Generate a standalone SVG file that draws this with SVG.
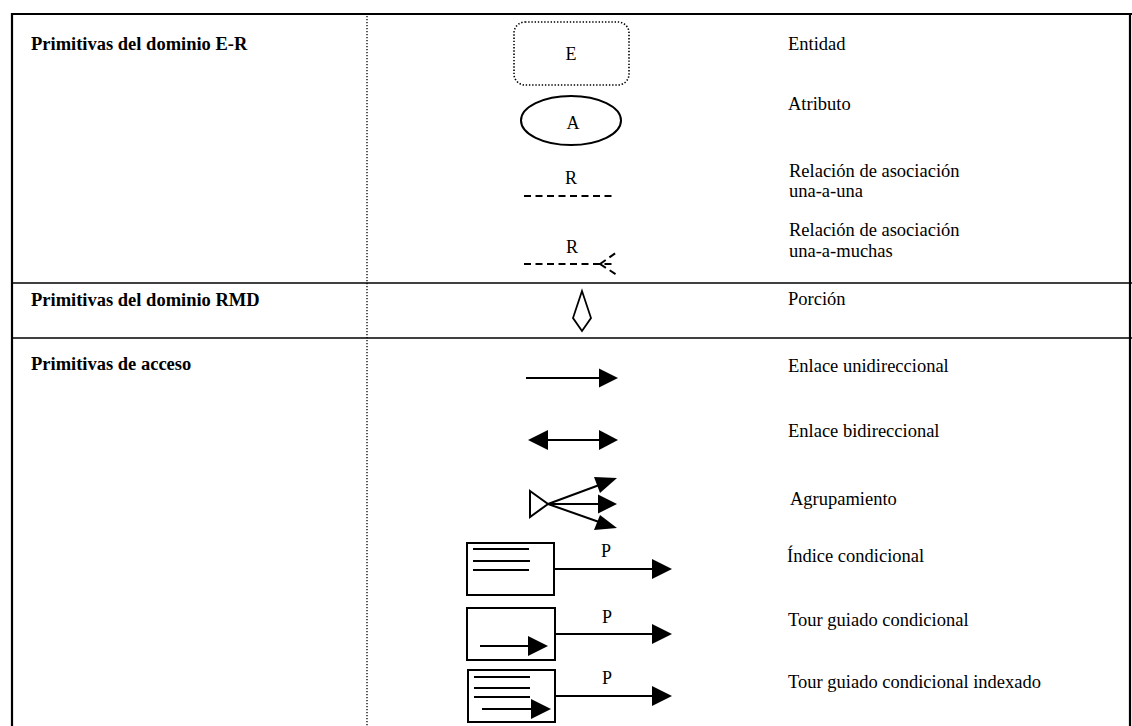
<svg xmlns="http://www.w3.org/2000/svg" width="1132" height="726" viewBox="0 0 1132 726">
  <style>
    .lbl { font-family: "Liberation Serif", "Times New Roman", serif; font-size: 18.5px; fill: #000; }
    .hdr { font-family: "Liberation Serif", "Times New Roman", serif; font-size: 18.5px; font-weight: bold; fill: #000; }
    .sym { font-family: "Liberation Serif", "Times New Roman", serif; font-size: 18px; fill: #000; text-anchor: middle; }
    .frame { fill: none; stroke: #000; stroke-width: 2.2; }
    .rule { stroke: #000; stroke-width: 1.6; }
    .sep { stroke: #000; stroke-width: 1.3; stroke-dasharray: 1.3 1.7; }
    .ln { fill: none; stroke: #000; stroke-width: 2; }
    .dash { fill: none; stroke: #000; stroke-width: 2; stroke-dasharray: 7 4.5; }
    .head { fill: #000; stroke: none; }
    .box { fill: #fff; stroke: #000; stroke-width: 2; }
  </style>

  <!-- table frame -->
  <g id="table">
    <line class="frame" x1="12" y1="14" x2="1132" y2="14"/>
    <line class="frame" x1="12" y1="13" x2="12" y2="726"/>
    <line class="frame" x1="1130" y1="13" x2="1130" y2="726"/>
    <line class="rule" x1="12" y1="283" x2="1132" y2="283"/>
    <line class="rule" x1="12" y1="338" x2="1132" y2="338"/>
    <line class="sep" x1="367" y1="16" x2="367" y2="726"/>
  </g>

  <!-- row headings -->
  <g id="headings">
    <text class="hdr" x="31" y="50">Primitivas del dominio E-R</text>
    <text class="hdr" x="31" y="306">Primitivas del dominio RMD</text>
    <text class="hdr" x="31" y="370">Primitivas de acceso</text>
  </g>

  <!-- E-R domain -->
  <g id="entidad">
    <rect x="514" y="22" width="115" height="63" rx="11" ry="11" fill="none" stroke="#000" stroke-width="1.6" stroke-dasharray="1.4 1.8"/>
    <text class="sym" x="571" y="60">E</text>
    <text class="lbl" x="788" y="50">Entidad</text>
  </g>

  <g id="atributo">
    <ellipse cx="571" cy="120.5" rx="50" ry="24.5" fill="none" stroke="#000" stroke-width="2"/>
    <text class="sym" x="573" y="129">A</text>
    <text class="lbl" x="788" y="110">Atributo</text>
  </g>

  <g id="rel-una-una">
    <text class="sym" x="571" y="184">R</text>
    <line class="dash" x1="524" y1="196" x2="614" y2="196"/>
    <text class="lbl" x="789" y="177">Relación de asociación</text>
    <text class="lbl" x="789" y="197">una-a-una</text>
  </g>

  <g id="rel-una-muchas">
    <text class="sym" x="572" y="253">R</text>
    <line class="dash" x1="524" y1="264" x2="614" y2="264"/>
    <line class="dash" x1="600" y1="264" x2="617" y2="252" stroke-dasharray="6 4"/>
    <line class="dash" x1="600" y1="264" x2="617" y2="275" stroke-dasharray="6 4"/>
    <text class="lbl" x="789" y="236">Relación de asociación</text>
    <text class="lbl" x="789" y="257">una-a-muchas</text>
  </g>

  <!-- RMD domain -->
  <g id="porcion">
    <polygon points="582,291 573,318 582,331 591,318" fill="none" stroke="#000" stroke-width="1.8" stroke-linejoin="miter"/>
    <text class="lbl" x="788" y="305">Porción</text>
  </g>

  <!-- access primitives -->
  <g id="connectors">
    <!-- unidirectional -->
    <line class="ln" x1="526" y1="378" x2="600" y2="378"/>
    <polygon class="head" points="599,368.5 618,378 599,387.5"/>
    <!-- bidirectional -->
    <line class="ln" x1="545" y1="440" x2="602" y2="440"/>
    <polygon class="head" points="548,430 528,440 548,450"/>
    <polygon class="head" points="599,430 618,440 599,450"/>
    <!-- grouping -->
    <polygon points="530,491 548,504 530,517" fill="#fff" stroke="#000" stroke-width="2"/>
    <line class="ln" x1="548" y1="504" x2="602" y2="484"/>
    <line class="ln" x1="548" y1="504" x2="600" y2="504"/>
    <line class="ln" x1="548" y1="504" x2="602" y2="523"/>
    <polygon class="head" points="594,477 617,478 600,493"/>
    <polygon class="head" points="598,494.5 617,504 598,513.5"/>
    <polygon class="head" points="600,515 617,528 594,530"/>
  </g>

  <g id="enlace-uni">
    <text class="lbl" x="788" y="372">Enlace unidireccional</text>
  </g>
  <g id="enlace-bi">
    <text class="lbl" x="788" y="437">Enlace bidireccional</text>
  </g>
  <g id="agrupamiento">
    <text class="lbl" x="790" y="505">Agrupamiento</text>
  </g>

  <g id="indice-condicional">
    <rect class="box" x="467" y="543" width="87" height="52"/>
    <line class="ln" x1="473" y1="549" x2="529" y2="549"/>
    <line class="ln" x1="473" y1="561" x2="530" y2="561"/>
    <line class="ln" x1="473" y1="570" x2="529" y2="570"/>
    <line class="ln" x1="554" y1="569" x2="654" y2="569"/>
    <polygon class="head" points="652,559 672,569 652,579"/>
    <text class="sym" x="606" y="557">P</text>
    <text class="lbl" x="787" y="562">Índice condicional</text>
  </g>

  <g id="tour-condicional">
    <rect class="box" x="467" y="608" width="88" height="52"/>
    <line class="ln" x1="480" y1="646" x2="530" y2="646"/>
    <polygon class="head" points="528,636 548,646 528,656"/>
    <line class="ln" x1="555" y1="634" x2="654" y2="634"/>
    <polygon class="head" points="652,624 672,634 652,644"/>
    <text class="sym" x="607" y="623">P</text>
    <text class="lbl" x="788" y="626">Tour guiado condicional</text>
  </g>

  <g id="tour-condicional-indexado">
    <rect class="box" x="468" y="670" width="87" height="52"/>
    <line class="ln" x1="474" y1="677" x2="530" y2="677"/>
    <line class="ln" x1="474" y1="688" x2="530" y2="688"/>
    <line class="ln" x1="474" y1="697" x2="530" y2="697"/>
    <line class="ln" x1="482" y1="709" x2="533" y2="709"/>
    <polygon class="head" points="531,699 551,709 531,719"/>
    <line class="ln" x1="555" y1="696" x2="654" y2="696"/>
    <polygon class="head" points="652,686 672,696 652,706"/>
    <text class="sym" x="607" y="684">P</text>
    <text class="lbl" x="788" y="688">Tour guiado condicional indexado</text>
  </g>
</svg>
